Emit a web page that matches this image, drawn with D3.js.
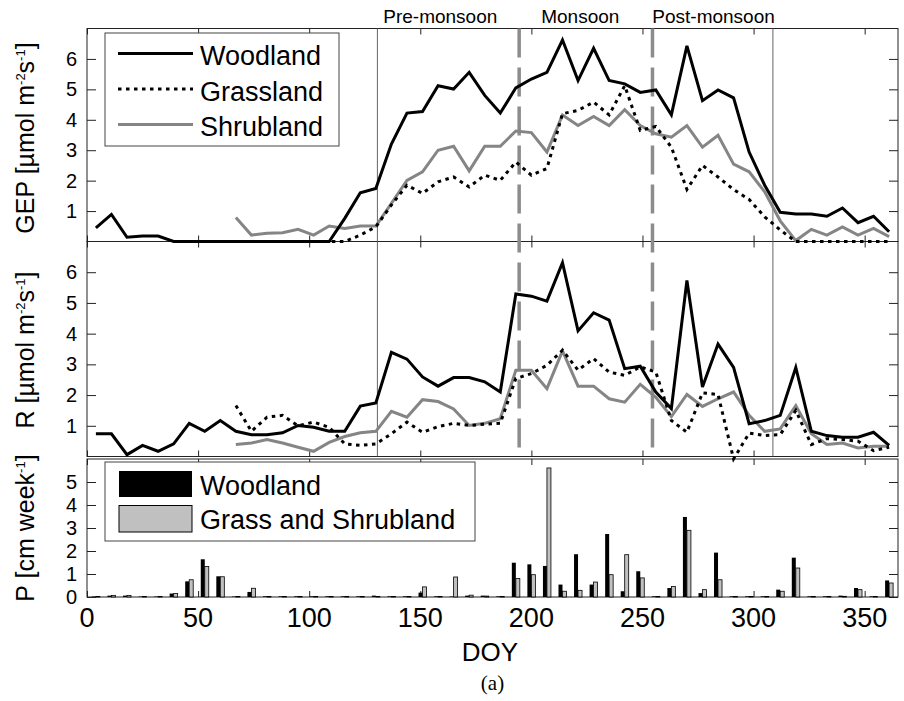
<!DOCTYPE html>
<html>
<head>
<meta charset="utf-8">
<script src="https://cdn.jsdelivr.net/npm/d3@7"></script>
<style>
  html, body { margin: 0; padding: 0; background: #fff; }
  svg { display: block; font-family: "Liberation Sans", Arial, Helvetica, sans-serif; }
</style>
</head>
<body>
<svg id="chart" width="904" height="701"></svg>
<script>
// Weekly day-of-year sample positions
const doy = [4,11,18,25,32,39,46,53,60,67,74,81,88,95,102,109,116,123,130,137,144,151,158,165,172,179,186,193,200,207,214,221,228,235,242,249,256,263,270,277,284,291,298,305,312,319,326,333,340,347,354,361];

// Gross ecosystem production [umol m-2 s-1]
const gepWoodland = [0.45,0.89,0.14,0.18,0.18,0,0,0,0,0,0,0,0,0,0,0,
  0.76,1.6,1.74,3.2,4.22,4.27,5.12,5.01,5.56,4.8,
  4.22,5.05,5.34,5.56,6.62,5.29,6.35,5.29,5.18,4.9,
  4.98,4.16,6.43,4.63,4.98,4.72,2.94,1.85,0.96,0.9,
  0.9,0.83,1.1,0.62,0.83,0.32];
const gepGrassland = [null,null,null,null,null,null,null,null,null,
  0,0,0,0,0,0,0,0,
  0.21,0.48,1.2,1.85,1.58,1.96,2.12,1.79,2.18,2.01,
  2.61,2.18,2.4,4.2,4.31,4.58,4.16,5.12,3.65,3.78,
  3.1,1.71,2.5,2.12,1.71,1.38,0.81,0.38,0,0,
  0,0,0,0,0];
const gepShrubland = [null,null,null,null,null,null,null,null,null,
  0.79,0.21,0.27,0.29,0.4,0.21,0.51,0.43,0.51,0.51,
  1.25,2.01,2.29,3.0,3.13,2.32,3.13,3.13,3.63,3.58,
  2.94,4.16,3.81,4.11,3.81,4.33,3.81,3.54,3.43,3.81,
  3.1,3.49,2.54,2.29,1.63,0.68,0.03,0.4,0.21,0.48,
  0.21,0.43,0.16];

// Ecosystem respiration [umol m-2 s-1]
const rWoodland = [0.74,0.74,0.06,0.36,0.17,0.41,1.08,0.82,1.17,0.82,
  0.71,0.71,0.77,1.01,0.95,0.82,0.82,1.64,1.74,3.39,
  3.17,2.59,2.29,2.57,2.57,2.43,2.1,5.29,5.22,5.06,
  6.31,4.09,4.68,4.44,2.86,2.94,2.1,1.56,5.73,2.26,
  3.66,2.9,1.07,1.17,1.34,2.9,0.82,0.68,0.63,0.63,
  0.79,0.36];
const rGrassland = [null,null,null,null,null,null,null,null,null,
  1.66,0.82,1.28,1.34,1.0,1.12,0.95,0.41,0.36,0.41,
  0.74,1.12,0.79,0.97,1.08,1.01,1.05,1.08,2.54,2.7,
  2.97,3.46,2.81,3.19,2.75,2.64,2.92,2.75,1.17,0.79,
  2.07,2.02,-0.08,0.76,0.68,0.71,1.5,0.39,0.58,0.55,
  0.5,0.19,0.3];
const rShrubland = [null,null,null,null,null,null,null,null,null,
  0.39,0.44,0.55,0.44,0.3,0.17,0.46,0.65,0.77,0.82,
  1.47,1.28,1.85,1.79,1.55,1.01,1.08,1.23,2.81,2.81,
  2.21,3.44,2.29,2.29,1.88,1.77,2.35,1.93,1.3,2.02,
  1.63,1.88,2.1,1.34,0.82,0.9,1.66,0.74,0.39,0.44,
  0.28,0.33,0.33];

// Weekly precipitation [cm week-1]
const pWoodland = [0.02,0.06,0.06,0.02,0.02,0.15,0.68,1.64,0.9,0.02,
  0.22,0.03,0.03,0.03,0.03,0.03,0.03,0.03,0.06,0.03,
  0.03,0.19,0.03,0.02,0.06,0.06,0.03,1.49,1.42,1.35,
  0.54,1.86,0.54,2.74,0.25,1.12,0.03,0.39,3.48,0.17,
  1.93,0.03,0.03,0.03,0.32,1.71,0.03,0.03,0.06,0.39,
  0.03,0.72];
const pGrassShrub = [0.02,0.07,0.07,0.02,0.02,0.15,0.75,1.33,0.88,0.02,
  0.38,0.02,0.02,0.02,0.02,0.02,0.02,0.02,0.02,0.02,
  0.02,0.44,0.02,0.87,0.08,0.04,0.02,0.8,0.97,5.61,
  0.25,0.29,0.65,0.97,1.84,0.83,0.02,0.46,2.9,0.32,
  0.75,0.02,0.02,0.02,0.25,1.26,0.02,0.02,0.03,0.32,
  0.02,0.61];

// Season boundaries (DOY) and season labels
const seasonEdges = [130.7, 308.7];
const monsoonEdges = [194.5, 254.5];
const seasonNames = ["Pre-monsoon", "Monsoon", "Post-monsoon"];
const seasonLabelDoy = [159, 222, 282];

const xTicks = [0,50,100,150,200,250,300,350];
const fluxTicks = [1,2,3,4,5,6];
const precipTicks = [0,1,2,3,4,5];

const svg = d3.select("#chart");
const L = 87, R = 898;
const x = d3.scaleLinear().domain([0, 365]).range([L, R]);
const yGep = d3.scaleLinear().domain([0, 7]).range([241.5, 28.5]);
const yR = d3.scaleLinear().domain([0, 7]).range([456.5, 241.5]);
const yP = d3.scaleLinear().domain([0, 6]).range([597, 459]);

const styles = {
  wood: { stroke: "#000", dash: null },
  grass: { stroke: "#000", dash: "3.5,4.5" },
  shrub: { stroke: "#858585", dash: null }
};

function frame(y, ticks, tickFont) {
  const [y0, y1] = y.range();
  const g = svg.append("g");
  g.append("rect").attr("x", L).attr("y", y1).attr("width", R - L).attr("height", y0 - y1)
    .attr("fill", "none").attr("stroke", "#222").attr("stroke-width", 1);
  // inward y ticks on both sides
  const yl = d3.axisLeft(y).tickValues(ticks).tickSizeInner(-9).tickSizeOuter(0).tickFormat(d3.format("d"));
  const yr = d3.axisRight(y).tickValues(ticks).tickSizeInner(-9).tickSizeOuter(0).tickFormat("");
  const gl = g.append("g").attr("transform", `translate(${L},0)`).call(yl);
  gl.select(".domain").remove();
  gl.selectAll("text").attr("x", -10).attr("font-size", tickFont).attr("fill", "#000")
    .attr("font-family", "Liberation Sans, Arial, sans-serif");
  gl.selectAll("line").attr("stroke", "#222");
  const gr = g.append("g").attr("transform", `translate(${R},0)`).call(yr);
  gr.select(".domain").remove();
  gr.selectAll("line").attr("stroke", "#222");
  // inward x ticks top and bottom
  const xt = d3.axisTop(x).tickValues(xTicks).tickSizeInner(-6).tickSizeOuter(0).tickFormat("");
  const xb = d3.axisBottom(x).tickValues(xTicks).tickSizeInner(-6).tickSizeOuter(0).tickFormat("");
  const gt = g.append("g").attr("transform", `translate(0,${y1})`).call(xt);
  gt.select(".domain").remove(); gt.selectAll("line").attr("stroke", "#222");
  const gb = g.append("g").attr("transform", `translate(0,${y0})`).call(xb);
  gb.select(".domain").remove(); gb.selectAll("line").attr("stroke", "#222");
  return g;
}

frame(yGep, fluxTicks, 20);
frame(yR, fluxTicks, 20);
frame(yP, precipTicks, 20);

// x tick labels on the precipitation panel
svg.append("g").selectAll("text").data(xTicks).join("text")
  .attr("x", d => x(d)).attr("y", 627).attr("text-anchor", "middle")
  .attr("font-size", 27).text(d => d);

// season separators across the flux panels
svg.append("g").selectAll("line").data(seasonEdges).join("line")
  .attr("x1", d => x(d)).attr("x2", d => x(d))
  .attr("y1", yGep.range()[1]).attr("y2", yR.range()[0])
  .attr("stroke", "#555").attr("stroke-width", 0.9);
svg.append("g").selectAll("line").data(monsoonEdges).join("line")
  .attr("x1", d => x(d)).attr("x2", d => x(d))
  .attr("y1", yGep.range()[1]).attr("y2", yR.range()[0])
  .attr("stroke", "#8c8c8c").attr("stroke-width", 3.5).attr("stroke-dasharray", "29,10");

svg.append("g").selectAll("text").data(seasonNames).join("text")
  .attr("x", (d, i) => x(seasonLabelDoy[i])).attr("y", 22.5)
  .attr("text-anchor", "middle").attr("font-size", 19).text(d => d);

function drawLine(values, y, st) {
  const line = d3.line()
    .defined(d => d[1] !== null)
    .x(d => x(d[0])).y(d => y(d[1]));
  svg.append("path")
    .datum(doy.map((d, i) => [d, values[i]]))
    .attr("d", line)
    .attr("fill", "none")
    .attr("stroke", st.stroke)
    .attr("stroke-width", 3)
    .attr("stroke-linejoin", "miter")
    .attr("stroke-dasharray", st.dash);
}

drawLine(gepShrubland, yGep, styles.shrub);
drawLine(gepGrassland, yGep, styles.grass);
drawLine(gepWoodland, yGep, styles.wood);
drawLine(rShrubland, yR, styles.shrub);
drawLine(rGrassland, yR, styles.grass);
drawLine(rWoodland, yR, styles.wood);

// precipitation bars: woodland left, grass/shrubland right of each week
const bw = x(1.8) - x(0);
const bars = svg.append("g");
bars.selectAll("rect.w").data(doy).join("rect").attr("class", "w")
  .attr("x", d => x(d) - bw).attr("width", bw)
  .attr("y", (d, i) => yP(pWoodland[i])).attr("height", (d, i) => yP(0) - yP(pWoodland[i]))
  .attr("fill", "#000");
bars.selectAll("rect.g").data(doy).join("rect").attr("class", "g")
  .attr("x", d => x(d)).attr("width", bw)
  .attr("y", (d, i) => yP(pGrassShrub[i])).attr("height", (d, i) => yP(0) - yP(pGrassShrub[i]))
  .attr("fill", "#c0c0c0").attr("stroke", "#000").attr("stroke-width", 0.8);

// legend for the flux panels
const leg1 = svg.append("g");
leg1.append("rect").attr("x", 105).attr("y", 33).attr("width", 234).attr("height", 113)
  .attr("fill", "#fff").attr("stroke", "#444").attr("stroke-width", 1);
const legItems = [["Woodland", styles.wood], ["Grassland", styles.grass], ["Shrubland", styles.shrub]];
legItems.forEach(([name, st], i) => {
  const cy = 53.5 + i * 35.5;
  leg1.append("line").attr("x1", 118).attr("x2", 193).attr("y1", cy).attr("y2", cy)
    .attr("stroke", st.stroke).attr("stroke-width", 3).attr("stroke-dasharray", st.dash);
  leg1.append("text").attr("x", 200).attr("y", cy + 11.5).attr("font-size", 27).text(name);
});

// legend for the precipitation panel
const leg2 = svg.append("g");
leg2.append("rect").attr("x", 105).attr("y", 462).attr("width", 370).attr("height", 79)
  .attr("fill", "#fff").attr("stroke", "#444").attr("stroke-width", 1);
leg2.append("rect").attr("x", 119).attr("y", 471).attr("width", 73).attr("height", 26).attr("fill", "#000");
leg2.append("rect").attr("x", 119).attr("y", 505.5).attr("width", 73).attr("height", 26.5)
  .attr("fill", "#c0c0c0").attr("stroke", "#000").attr("stroke-width", 1);
leg2.append("text").attr("x", 200).attr("y", 494.5).attr("font-size", 27).text("Woodland");
leg2.append("text").attr("x", 200).attr("y", 529).attr("font-size", 27).text("Grass and Shrubland");

// rotated axis titles; superscripts raised by dy and the following run lowered back
function yTitle(cy, parts) {
  const t = svg.append("text").attr("transform", `translate(34,${cy}) rotate(-90)`)
    .attr("text-anchor", "middle").attr("font-size", 25);
  let raised = false;
  parts.forEach(([s, sup]) => {
    const ts = t.append("tspan").text(s);
    if (sup) {
      ts.attr("font-size", 13).attr("dy", raised ? 0 : -9);
      raised = true;
    } else if (raised) {
      ts.attr("dy", 9);
      raised = false;
    }
  });
}
yTitle(138, [["GEP [\u00b5mol m"], ["-2", true], ["s"], ["-1", true], ["]"]]);
yTitle(350, [["R [\u00b5mol m"], ["-2", true], ["s"], ["-1", true], ["]"]]);
yTitle(528, [["P [cm week"], ["-1", true], ["]"]]);

svg.append("text").attr("x", 490).attr("y", 660.5).attr("text-anchor", "middle")
  .attr("font-size", 26).text("DOY");
svg.append("text").attr("x", 492.5).attr("y", 690).attr("text-anchor", "middle")
  .attr("font-size", 21).attr("font-family", "Liberation Serif, Times New Roman, serif").text("(a)");
</script>
</body>
</html>
